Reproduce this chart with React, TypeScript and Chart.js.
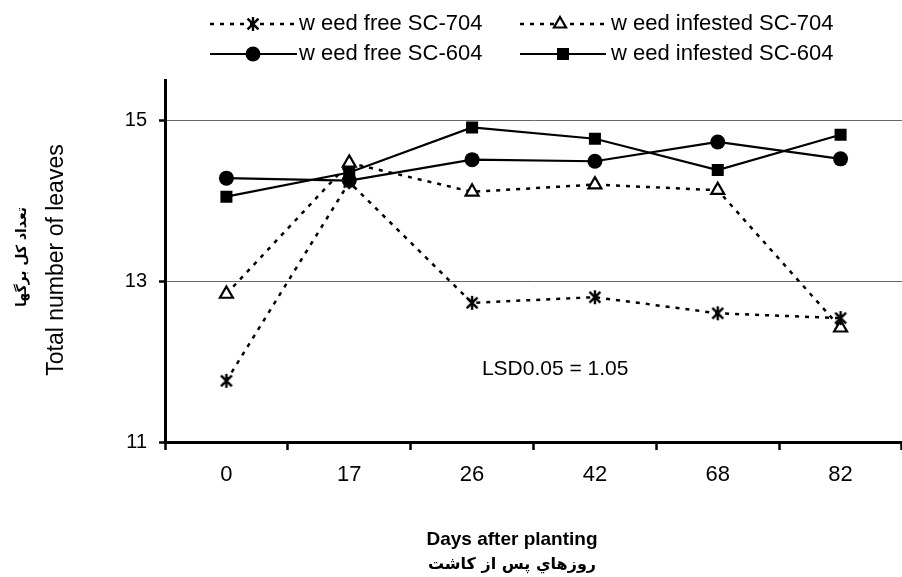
import React, { useEffect, useRef } from 'react';
import { Chart, registerables } from 'chart.js';

Chart.register(...registerables);

// ---- data ----
const days = ['0', '17', '26', '42', '68', '82'];
const weedFreeSC704 = [11.76, 14.23, 12.73, 12.8, 12.6, 12.54];
const weedInfestedSC704 = [12.84, 14.47, 14.11, 14.2, 14.13, 12.42];
const weedFreeSC604 = [14.28, 14.25, 14.51, 14.49, 14.73, 14.52];
const weedInfestedSC604 = [14.05, 14.35, 14.91, 14.77, 14.38, 14.82];
const yTicks = [11, 13, 15];
const yMin = 11;
const yMax = 15.5;
const legendLabels = [
  'w eed free SC-704',
  'w eed infested SC-704',
  'w eed free SC-604',
  'w eed infested SC-604',
];
const lsdText = 'LSD0.05 = 1.05';
const lsdAt = { index: 2.08, value: 11.91 };
const xTitle = 'Days after planting';
const xTitleFa = 'روزهاي پس از كاشت';
const yTitle = 'Total number of leaves';
const yTitleFa = 'تعداد كل برگها';

const FONT = '"Liberation Sans", Arial, Helvetica, sans-serif';
const FA_FONT = '"DejaVu Sans", "Noto Sans", sans-serif';
const DOT_DASH = [4, 6];

function makeAsterisk(size: number, lw: number): HTMLCanvasElement {
  const c = document.createElement('canvas');
  c.width = size;
  c.height = size;
  const ctx = c.getContext('2d')!;
  ctx.strokeStyle = '#000';
  ctx.lineWidth = lw;
  const cx = size / 2;
  const cy = size / 2;
  const r = size / 2 - 1;
  ctx.beginPath();
  ctx.moveTo(cx, cy - r);
  ctx.lineTo(cx, cy + r);
  const d = r * 0.78;
  ctx.moveTo(cx - d, cy - d);
  ctx.lineTo(cx + d, cy + d);
  ctx.moveTo(cx + d, cy - d);
  ctx.lineTo(cx - d, cy + d);
  ctx.stroke();
  return c;
}

function drawMarker(ctx: CanvasRenderingContext2D, kind: string, x: number, y: number, star: HTMLCanvasElement) {
  ctx.save();
  ctx.setLineDash([]);
  ctx.fillStyle = '#000';
  ctx.strokeStyle = '#000';
  if (kind === 'circle') {
    ctx.beginPath();
    ctx.arc(x, y, 7.5, 0, Math.PI * 2);
    ctx.fill();
  } else if (kind === 'square') {
    ctx.fillRect(x - 6, y - 6, 12, 12);
  } else if (kind === 'triangle') {
    const r = 7;
    ctx.beginPath();
    ctx.moveTo(x, y - r);
    ctx.lineTo(x + r * 0.866, y + r * 0.5);
    ctx.lineTo(x - r * 0.866, y + r * 0.5);
    ctx.closePath();
    ctx.fillStyle = '#fff';
    ctx.fill();
    ctx.lineWidth = 2.2;
    ctx.stroke();
  } else {
    ctx.drawImage(star, x - star.width / 2, y - star.height / 2);
  }
  ctx.restore();
}

export default function App() {
  const ref = useRef<HTMLCanvasElement>(null);

  useEffect(() => {
    if (!ref.current) return;
    const star = makeAsterisk(16, 2.4);

    const overlay = {
      id: 'overlay',
      afterDraw(chart: any) {
        const ctx: CanvasRenderingContext2D = chart.ctx;
        const xs = chart.scales.x;
        const ys = chart.scales.y;
        ctx.save();
        ctx.fillStyle = '#000';
        ctx.strokeStyle = '#000';

        // legend
        const rows = [24, 54];
        const items = [
          { kind: 'star', dash: true, x0: 210, x1: 297, mx: 253, tx: 299, row: 0, label: legendLabels[0] },
          { kind: 'triangle', dash: true, x0: 520, x1: 606, mx: 560, tx: 611, row: 0, label: legendLabels[1] },
          { kind: 'circle', dash: false, x0: 210, x1: 297, mx: 253, tx: 299, row: 1, label: legendLabels[2] },
          { kind: 'square', dash: false, x0: 520, x1: 606, mx: 563, tx: 611, row: 1, label: legendLabels[3] },
        ];
        ctx.font = `22px ${FONT}`;
        ctx.textBaseline = 'middle';
        ctx.textAlign = 'left';
        for (const it of items) {
          const y = rows[it.row];
          ctx.save();
          ctx.lineWidth = it.dash ? 2.5 : 2.2;
          ctx.setLineDash(it.dash ? DOT_DASH : []);
          ctx.beginPath();
          ctx.moveTo(it.x0, y);
          ctx.lineTo(it.x1, y);
          ctx.stroke();
          ctx.restore();
          drawMarker(ctx, it.kind, it.mx, y, star);
          ctx.fillText(it.label, it.tx, y);
        }

        // LSD annotation
        ctx.font = `21px ${FONT}`;
        ctx.textAlign = 'left';
        ctx.fillText(lsdText, xs.getPixelForValue(lsdAt.index), ys.getPixelForValue(lsdAt.value));

        // x titles
        ctx.textAlign = 'center';
        ctx.font = `bold 19px ${FONT}`;
        ctx.fillText(xTitle, 512, 540);
        ctx.font = `bold 16px ${FA_FONT}`;
        ctx.direction = 'rtl';
        ctx.fillText(xTitleFa, 512, 565);
        ctx.direction = 'ltr';

        // y titles
        ctx.save();
        ctx.translate(57, 260);
        ctx.rotate(-Math.PI / 2);
        ctx.font = `23px ${FONT}`;
        ctx.fillText(yTitle, 0, 0);
        ctx.restore();
        ctx.save();
        ctx.translate(22, 257);
        ctx.rotate(-Math.PI / 2);
        ctx.font = `bold 14px ${FA_FONT}`;
        ctx.direction = 'rtl';
        ctx.fillText(yTitleFa, 0, 0);
        ctx.restore();

        ctx.restore();
      },
    };

    const chart = new Chart(ref.current, {
      type: 'line',
      data: {
        labels: days,
        datasets: [
          {
            label: legendLabels[2],
            data: weedFreeSC604,
            borderColor: '#000',
            backgroundColor: '#000',
            borderWidth: 2.2,
            pointStyle: 'circle',
            pointRadius: 7.5,
            pointBorderWidth: 0,
          },
          {
            label: legendLabels[3],
            data: weedInfestedSC604,
            borderColor: '#000',
            backgroundColor: '#000',
            borderWidth: 2.2,
            pointStyle: 'rect',
            pointRadius: 8.5,
            pointBorderWidth: 0,
          },
          {
            label: legendLabels[0],
            data: weedFreeSC704,
            borderColor: '#000',
            backgroundColor: '#000',
            borderWidth: 2.5,
            borderDash: DOT_DASH,
            pointStyle: star,
            pointRadius: 8,
          },
          {
            label: legendLabels[1],
            data: weedInfestedSC704,
            borderColor: '#000',
            backgroundColor: '#fff',
            borderWidth: 2.5,
            borderDash: DOT_DASH,
            pointStyle: 'triangle',
            pointRadius: 7.5,
            pointBorderWidth: 2.2,
          },
        ],
      },
      options: {
        responsive: false,
        animation: false,
        devicePixelRatio: 1,
        layout: { autoPadding: false, padding: { left: 120, top: 80, right: 0, bottom: 75 } },
        plugins: {
          legend: { display: false },
          tooltip: { enabled: false },
        },
        scales: {
          x: {
            type: 'category',
            offset: true,
            grid: {
              offset: true,
              drawOnChartArea: false,
              drawTicks: true,
              tickLength: 8,
              tickColor: '#000',
              tickWidth: 2.5,
            },
            border: { color: '#000', width: 3 },
            ticks: {
              color: '#000',
              font: { family: FONT, size: 22 },
              padding: 12,
              maxRotation: 0,
            },
            afterFit: (s: any) => {
              s.height = 60;
              s.paddingLeft = 0;
              s.paddingRight = 0;
            },
          },
          y: {
            type: 'linear',
            min: yMin,
            max: yMax,
            afterBuildTicks: (s: any) => {
              s.ticks = yTicks.map((v) => ({ value: v }));
            },
            grid: {
              color: '#666',
              lineWidth: 1,
              drawTicks: true,
              tickLength: 6,
              tickColor: '#000',
              tickWidth: 2.5,
            },
            border: { color: '#000', width: 3 },
            ticks: {
              color: '#000',
              font: { family: FONT, size: 20 },
              padding: 12,
            },
            afterFit: (s: any) => {
              s.width = 45;
              s.paddingTop = 0;
              s.paddingBottom = 0;
            },
          },
        },
      },
      plugins: [overlay],
    } as any);

    return () => chart.destroy();
  }, []);

  return (
    <div style={{ position: 'fixed', left: 0, top: 0, width: 902, height: 577, background: '#fff' }}>
      <canvas ref={ref} width={902} height={577} style={{ display: 'block' }} />
    </div>
  );
}
